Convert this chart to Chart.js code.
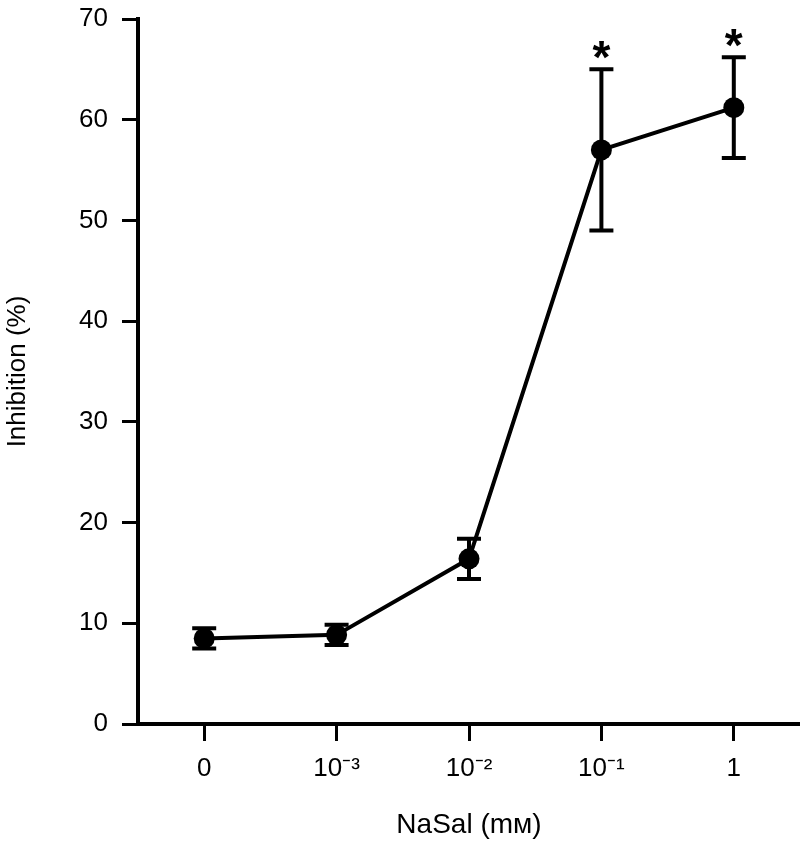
<!DOCTYPE html>
<html>
<head>
<meta charset="utf-8">
<script src="https://cdn.jsdelivr.net/npm/chart.js@4/dist/chart.umd.min.js"></script>
<style>
    body { margin: 0; background: #fff; }
    #contenedor { width: 800px; height: 842px; }
</style>
</head>
<body>
<div id="contenedor"><canvas id="graficaInhibicion" width="800" height="842"></canvas></div>
<script>
// Datos de la gráfica
const categorias = ['0', '10⁻³', '10⁻²', '10⁻¹', '1'];
const inhibicion = [8.5, 8.85, 16.4, 57.0, 61.2];
const errores = [1.0, 1.0, 2.0, 8.0, 5.0];
const marcas = ['', '', '', '*', '*'];
const ticksY = [0, 10, 20, 30, 40, 50, 60, 70];

const fuente = "'Liberation Sans', Arial, Helvetica, sans-serif";

// Plugin para dibujar barras de error y asteriscos
const barrasError = {
    id: 'barrasError',
    beforeDatasetsDraw(chart) {
        const ctx = chart.ctx;
        const x = chart.scales.x;
        const y = chart.scales.y;
        ctx.save();
        ctx.strokeStyle = '#000';
        ctx.lineWidth = 4;
        inhibicion.forEach((v, i) => {
            const px = x.getPixelForValue(i);
            const arriba = y.getPixelForValue(v + errores[i]);
            const abajo = y.getPixelForValue(v - errores[i]);
            ctx.beginPath();
            ctx.moveTo(px, arriba);
            ctx.lineTo(px, abajo);
            ctx.moveTo(px - 12, arriba);
            ctx.lineTo(px + 12, arriba);
            ctx.moveTo(px - 12, abajo);
            ctx.lineTo(px + 12, abajo);
            ctx.stroke();
        });
        ctx.restore();
    },
    afterDatasetsDraw(chart) {
        const ctx = chart.ctx;
        const x = chart.scales.x;
        const y = chart.scales.y;
        ctx.save();
        ctx.fillStyle = '#000';
        ctx.font = 'bold 46px ' + fuente;
        ctx.textAlign = 'center';
        ctx.textBaseline = 'alphabetic';
        marcas.forEach((m, i) => {
            if (!m) return;
            const px = x.getPixelForValue(i);
            const arriba = y.getPixelForValue(inhibicion[i] + errores[i]);
            ctx.fillText(m, px, arriba + 4);
        });
        ctx.restore();
    }
};

// Función para crear la gráfica
function crearGrafica() {
    const ctx = document.getElementById('graficaInhibicion').getContext('2d');
    new Chart(ctx, {
        type: 'line',
        data: {
            labels: categorias,
            datasets: [{
                label: 'Inhibition',
                data: inhibicion,
                borderColor: '#000',
                backgroundColor: '#000',
                borderWidth: 4,
                pointRadius: 10.5,
                pointBackgroundColor: '#000',
                pointBorderWidth: 0,
                tension: 0
            }]
        },
        options: {
            responsive: false,
            animation: false,
            devicePixelRatio: 1,
            layout: {
                autoPadding: false,
                padding: { top: 19, right: 0, bottom: 0, left: 0 }
            },
            plugins: {
                legend: { display: false },
                tooltip: { enabled: false }
            },
            scales: {
                x: {
                    type: 'category',
                    offset: true,
                    border: { display: true, color: '#000', width: 4 },
                    grid: {
                        drawOnChartArea: false,
                        drawTicks: true,
                        tickLength: 17,
                        color: '#000',
                        lineWidth: 3,
                        offset: false
                    },
                    ticks: {
                        color: '#000',
                        font: { family: fuente, size: 26 },
                        padding: 12,
                        maxRotation: 0
                    },
                    title: {
                        display: true,
                        text: 'NaSal (mᴍ)',
                        color: '#000',
                        font: { family: fuente, size: 28 },
                        padding: { top: 9, bottom: 0 }
                    },
                    afterFit(scale) {
                        scale.height = 118;
                        scale.paddingLeft = 0;
                        scale.paddingRight = 0;
                    }
                },
                y: {
                    min: 0,
                    max: 70,
                    afterBuildTicks(scale) {
                        scale.ticks = ticksY.map(v => ({ value: v }));
                    },
                    border: { display: true, color: '#000', width: 4 },
                    grid: {
                        drawOnChartArea: false,
                        drawTicks: true,
                        tickLength: 16,
                        color: '#000',
                        lineWidth: 3
                    },
                    ticks: {
                        color: '#000',
                        font: { family: fuente, size: 26 },
                        padding: 14
                    },
                    title: {
                        display: true,
                        text: 'Inhibition (%)',
                        color: '#000',
                        font: { family: fuente, size: 26 },
                        padding: { top: 2, bottom: 0 }
                    },
                    afterFit(scale) {
                        scale.width = 138;
                        scale.paddingTop = 0;
                        scale.paddingBottom = 0;
                    }
                }
            }
        },
        plugins: [barrasError]
    });
}

document.addEventListener('DOMContentLoaded', crearGrafica);
</script>
</body>
</html>
